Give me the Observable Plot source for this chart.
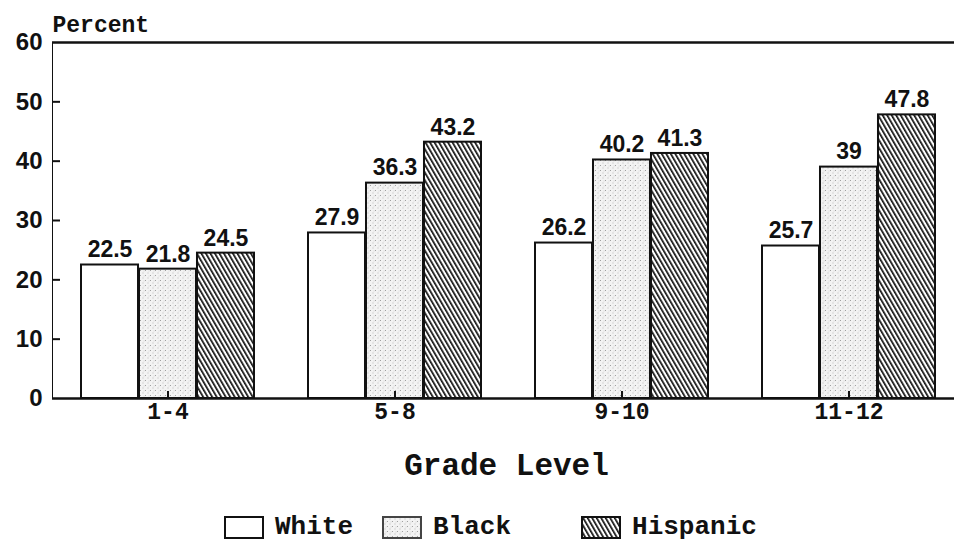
<!DOCTYPE html>
<html>
<head>
<meta charset="utf-8">
<script src="https://cdn.jsdelivr.net/npm/d3@7"></script>
<script src="https://cdn.jsdelivr.net/npm/@observablehq/plot@0.6"></script>
<style>
  body { margin: 0; background: #fff; width: 954px; height: 552px; overflow: hidden; }
  #chart svg { display: block; }
  .xlabel { font: bold 31px "Liberation Mono", "DejaVu Sans Mono", monospace; color: #111;
            width: 954px; box-sizing: border-box; padding-left: 59px; text-align: center;
            margin-top: 10px; line-height: 34px; }
  .legend { display: flex; align-items: center; margin-left: 224px; margin-top: 28px;
            font: bold 26px "Liberation Mono", "DejaVu Sans Mono", monospace; color: #111; }
  .legend .item { display: flex; align-items: center; }
</style>
</head>
<body>
<div id="chart"></div>
<div class="xlabel">Grade Level</div>
<div class="legend" id="legend"></div>
<script>
const grades = ["1-4", "5-8", "9-10", "11-12"];
const races = ["White", "Black", "Hispanic"];
const white = [22.5, 27.9, 26.2, 25.7];
const black = [21.8, 36.3, 40.2, 39];
const hispanic = [24.5, 43.2, 41.3, 47.8];
const yTicks = [0, 10, 20, 30, 40, 50, 60];
const innerTicks = [10, 20, 30, 40, 50];

const W = 954, H = 440, ML = 52, MR = 0, MT = 42, MB = 42;
const PI = 0.236, PO = 0.0985;
const step = (W - ML - MR) / (grades.length - PI + 2 * PO);
const BW = step * (1 - PI);
const SUB = BW / 3;

const rows = (vals, race) => grades.map((g, i) => ({grade: g, race, value: vals[i]}));
const wRows = rows(white, "White"), bRows = rows(black, "Black"), hRows = rows(hispanic, "Hispanic");

const numFont = '"Liberation Sans", Arial, sans-serif';
const txtFont = '"Liberation Mono", "DejaVu Sans Mono", monospace';

const barStyle = {x: "grade", y: "value", stroke: "#111", strokeWidth: 2};
const lab = (data, dx) => Plot.text(data, {
  x: "grade", y: "value", text: d => String(d.value), dx, dy: -15,
  fontSize: 23, fontWeight: "bold", fontFamily: numFont, fill: "#111"
});

const plot = Plot.plot({
  width: W, height: H,
  marginLeft: ML, marginRight: MR, marginTop: MT, marginBottom: MB,
  style: {background: "#fff", color: "#111", fontFamily: numFont, fontSize: "24px", fontWeight: "bold"},
  x: {domain: grades, paddingInner: PI, paddingOuter: PO, align: 0.62, tickSize: 0, tickPadding: 4, label: null},
  y: {domain: [0, 60], ticks: yTicks, tickSize: 0, tickPadding: 10, label: null, line: true},
  marks: [
    Plot.barY(wRows, {...barStyle, fill: "white", insetRight: 2 * SUB}),
    Plot.barY(bRows, {...barStyle, fill: "url(#stipple)", insetLeft: SUB, insetRight: SUB}),
    Plot.barY(hRows, {...barStyle, fill: "url(#hatch)", insetLeft: 2 * SUB}),
    lab(wRows, -SUB), lab(bRows, 0), lab(hRows, SUB),
    Plot.ruleY([0], {stroke: "#111", strokeWidth: 2.5}),
    Plot.ruleY([60], {stroke: "#111", strokeWidth: 2.5}),
    Plot.tickY(innerTicks, {y: d => d, stroke: "#111", strokeWidth: 2, insetRight: W - ML - MR - 8}),
    Plot.ruleX(grades, {x: d => d, stroke: "#111", strokeWidth: 2, insetTop: H - MT - MB - 7}),
    Plot.text(["Percent"], {frameAnchor: "top-left", text: d => d, dy: -27, dx: 0, textAnchor: "start",
      fontFamily: txtFont, fontSize: 23, fontWeight: "bold", fill: "#111"})
  ]
});

const defs = `
<defs>
  <pattern id="hatch" patternUnits="userSpaceOnUse" width="3.9" height="3.9" patternTransform="rotate(-30)">
    <rect width="3.9" height="3.9" fill="#fff"/>
    <rect x="0" y="0" width="1.7" height="3.9" fill="#111"/>
  </pattern>
  <pattern id="stipple" patternUnits="userSpaceOnUse" width="5" height="5">
    <rect width="5" height="5" fill="#f3f3f3"/>
    <rect x="0" y="0" width="1" height="1" fill="#a0a0a0"/>
    <rect x="2.5" y="2.5" width="1" height="1" fill="#b8b8b8"/>
    <rect x="3.5" y="0.5" width="1" height="1" fill="#d6d6d6"/>
  </pattern>
</defs>`;
plot.insertAdjacentHTML("afterbegin", defs);
d3.select(plot).selectAll('[aria-label="x-axis tick label"] text, [aria-label="x-axis"] text')
  .attr("font-family", txtFont).style("font-family", txtFont).style("font-size", "23px");
document.getElementById("chart").appendChild(plot);

// legend
const legend = document.getElementById("legend");
races.forEach(r => {
  const item = document.createElement("div");
  item.className = "item";
  const sw = document.createElementNS("http://www.w3.org/2000/svg", "svg");
  sw.setAttribute("width", 40); sw.setAttribute("height", 23);
  sw.style.marginRight = "11px";
  const fill = r === "White" ? "#fff" : r === "Black" ? "url(#stipple)" : "url(#hatch)";
  const stroke = r === "Black" ? "#444" : "#111";
  sw.innerHTML = `<rect x="1" y="1" width="38" height="21" fill="${fill}" stroke="${stroke}" stroke-width="2"/>`;
  item.appendChild(sw);
  const t = document.createElement("span");
  t.textContent = r;
  item.appendChild(t);
  item.style.marginRight = r === "White" ? "29px" : "70px";
  legend.appendChild(item);
});
</script>
</body>
</html>
